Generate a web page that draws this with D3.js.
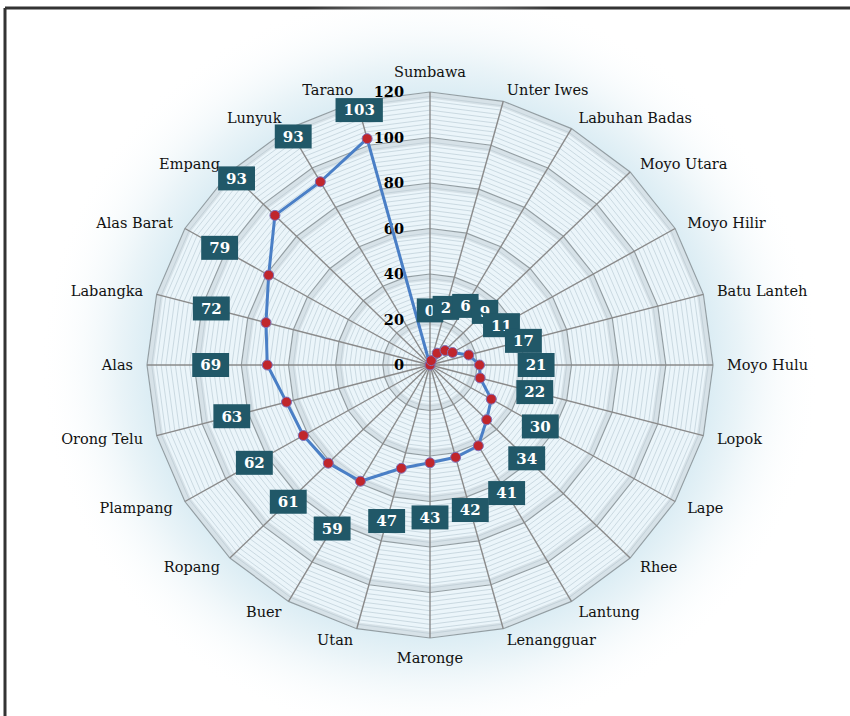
<!DOCTYPE html>
<html>
<head>
<meta charset="utf-8">
<script src="https://cdn.jsdelivr.net/npm/d3@7"></script>
<style>
  html, body { margin: 0; padding: 0; background: #fff; }
  svg { display: block; }
  .cat { font-family: "DejaVu Serif", serif; font-size: 14.5px; fill: #111; }
  .tick { font-family: "DejaVu Serif", serif; font-size: 14.5px; font-weight: bold; fill: #000; }
  .dlabel { font-family: "DejaVu Serif", serif; font-size: 15px; font-weight: bold; fill: #fff; }
</style>
</head>
<body>
<svg id="chart" width="850" height="716"></svg>
<script>
// Kecamatan categories, clockwise from the top
const categories = ["Sumbawa", "Unter Iwes", "Labuhan Badas", "Moyo Utara", "Moyo Hilir", "Batu Lanteh",
    "Moyo Hulu", "Lopok", "Lape", "Rhee", "Lantung", "Lenangguar", "Maronge", "Utan", "Buer", "Ropang",
    "Plampang", "Orong Telu", "Alas", "Labangka", "Alas Barat", "Empang", "Lunyuk", "Tarano"];
const values = [0, 2, 6, 9, 11, 17, 21, 22, 30, 34, 41, 42, 43, 47, 59, 61, 62, 63, 69, 72, 79, 93, 93, 103];
const tickValues = [0, 20, 40, 60, 80, 100, 120];

const cx = 430, cy = 365;
const maxV = 120;
const n = categories.length;

// the plot is slightly wider than tall
const rX = d3.scaleLinear().domain([0, maxV]).range([0, 283]);
const rY = d3.scaleLinear().domain([0, maxV]).range([0, 273]);
const angle = d3.scaleLinear().domain([0, n]).range([0, Math.PI * 2]);

function pt(i, v) {
    const a = angle(i);
    return [cx + Math.sin(a) * rX(v), cy - Math.cos(a) * rY(v)];
}
function ring(v) {
    return d3.range(n).map(i => pt(i, v));
}

const svg = d3.select('#chart');
const defs = svg.append('defs');

// halo round the plot
const halo = defs.append('radialGradient').attr('id', 'halo')
    .attr('cx', '50%').attr('cy', '50%').attr('r', '50%');
halo.append('stop').attr('offset', '0.7').attr('stop-color', '#d8ebf3');
halo.append('stop').attr('offset', '0.8').attr('stop-color', '#eaf4f8');
halo.append('stop').attr('offset', '1').attr('stop-color', '#ffffff').attr('stop-opacity', 0);

// frame
svg.append('line').attr('x1', 5).attr('y1', 8).attr('x2', 850).attr('y2', 8)
    .attr('stroke', '#333').attr('stroke-width', 3);
svg.append('line').attr('x1', 5).attr('y1', 8).attr('x2', 5).attr('y2', 716)
    .attr('stroke', '#333').attr('stroke-width', 3);

svg.append('ellipse')
    .attr('cx', cx).attr('cy', cy)
    .attr('rx', rX(maxV) * 1.38).attr('ry', rY(maxV) * 1.38)
    .attr('fill', 'url(#halo)');

const line = d3.line().curve(d3.curveLinearClosed);

// plot area
svg.append('path').attr('d', line(ring(maxV)))
    .attr('fill', '#ebf5fa');

// minor rings
const g = svg.append('g');
d3.range(2, maxV, 2).filter(v => v % 20 !== 0).forEach(v => {
    g.append('path').attr('d', line(ring(v)))
        .attr('fill', 'none').attr('stroke', '#c2d2da').attr('stroke-width', 0.8);
});

// major rings with a soft band inside them
tickValues.filter(v => v > 0).forEach(v => {
    g.append('path').attr('d', line(ring(v - 1.5)))
        .attr('fill', 'none').attr('stroke', '#b9c6cc').attr('stroke-opacity', 0.4).attr('stroke-width', 6);
    g.append('path').attr('d', line(ring(v)))
        .attr('fill', 'none').attr('stroke', '#939ea3').attr('stroke-width', 1.2);
});

// spokes
categories.forEach((c, i) => {
    const [x, y] = pt(i, maxV);
    g.append('line').attr('x1', cx).attr('y1', cy).attr('x2', x).attr('y2', y)
        .attr('stroke', '#8a8a8a').attr('stroke-width', 1.4);
});

// tick labels
svg.selectAll('.tick').data(tickValues).enter().append('text')
    .attr('class', 'tick')
    .attr('x', cx - 26)
    .attr('y', d => cy - rY(d))
    .attr('dy', '0.35em')
    .attr('text-anchor', 'end')
    .text(d => d);

// category labels
categories.forEach((c, i) => {
    const a = angle(i);
    const s = Math.sin(a), co = Math.cos(a);
    const [x, y] = pt(i, maxV);
    let anchor = 'middle', dx = 0, dy = -20 * co;
    if (s > 0.05) { anchor = 'start'; dx = 14 * s; dy = -12 * co; }
    else if (s < -0.05) { anchor = 'end'; dx = 14 * s; dy = -12 * co; }
    svg.append('text').attr('class', 'cat')
        .attr('x', x + dx).attr('y', y + dy)
        .attr('dy', '0.35em')
        .attr('text-anchor', anchor)
        .text(c);
});

// series
const pts = values.map((v, i) => pt(i, v));
svg.append('path').attr('d', line(pts))
    .attr('fill', 'none').attr('stroke', '#4a7fc6').attr('stroke-width', 3)
    .attr('stroke-linejoin', 'round');

svg.selectAll('.marker').data(values).enter().append('circle')
    .attr('class', 'marker')
    .attr('cx', (d, i) => pt(i, d)[0])
    .attr('cy', (d, i) => pt(i, d)[1])
    .attr('r', 5)
    .attr('fill', '#c0262c')
    .attr('stroke', '#7d6fb8')
    .attr('stroke-width', 1);

// data labels, pushed out along each spoke
const labelG = svg.append('g');
values.forEach((v, i) => {
    const [x, y] = pt(i, Math.min(v + 24, 116));
    const lg = labelG.append('g').attr('transform', `translate(${x},${y})`);
    const rect = lg.append('rect').attr('fill', '#215868');
    const t = lg.append('text').attr('class', 'dlabel')
        .attr('text-anchor', 'middle').attr('dy', '0.36em').text(v);
    const w = t.node().getComputedTextLength() + 16;
    rect.attr('x', -w / 2).attr('y', -12).attr('width', w).attr('height', 24);
});
</script>
</body>
</html>
